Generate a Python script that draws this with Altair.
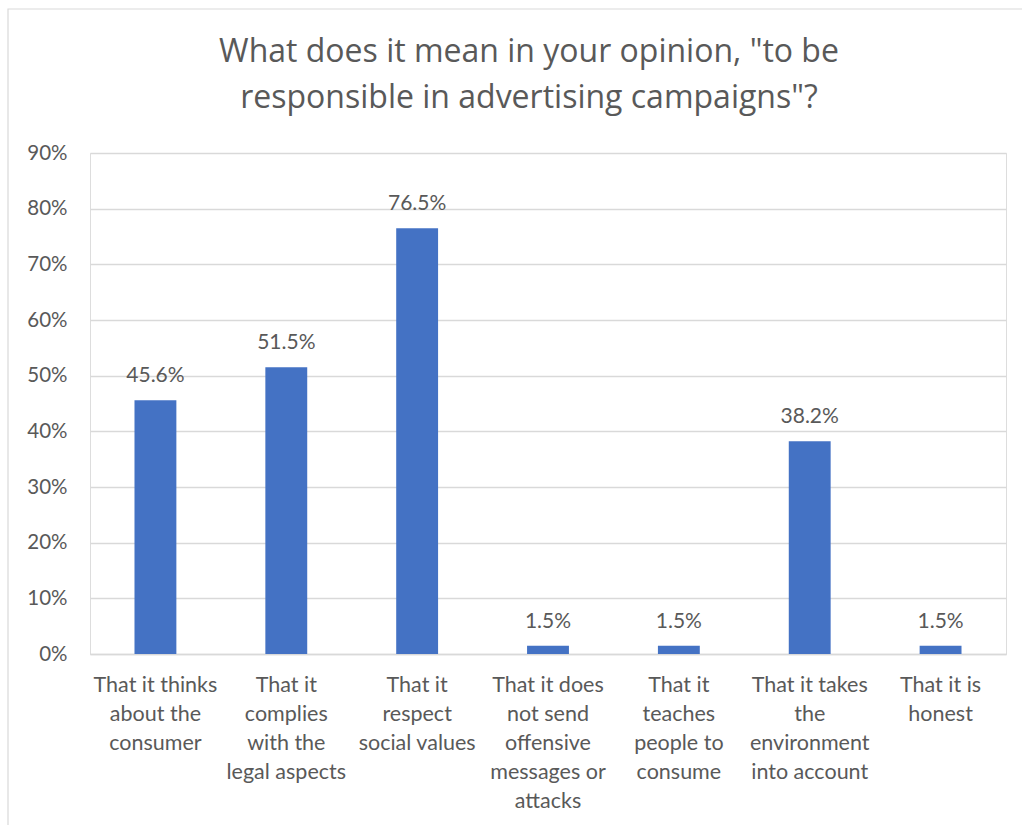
import altair as alt
import pandas as pd

title_lines = ["What does it mean in your opinion, \"to be ",
               "responsible in advertising campaigns\"?"]
label_lines = [
    ["That it thinks", "about the", "consumer"],
    ["That it", "complies", "with the", "legal aspects"],
    ["That it", "respect", "social values"],
    ["That it does", "not send", "offensive", "messages or", "attacks"],
    ["That it", "teaches", "people to", "consume"],
    ["That it takes", "the", "environment", "into account"],
    ["That it is", "honest"],
]
values = [0.456, 0.515, 0.765, 0.015, 0.015, 0.382, 0.015]
value_labels = ["45.6%", "51.5%", "76.5%", "1.5%", "1.5%", "38.2%", "1.5%"]
y_ticks = [0, 0.1, 0.2, 0.3, 0.4, 0.5, 0.6, 0.7, 0.8, 0.9]

categories = ["|".join(l) for l in label_lines]
df = pd.DataFrame({"cat": categories, "val": values, "lab": value_labels})

FONT = "Lato"
TXT = "#595959"

x = alt.X("cat:N", sort=categories, title=None,
          scale=alt.Scale(paddingInner=0.68, paddingOuter=0.34),
          axis=alt.Axis(labelExpr="split(datum.label, '|')", labelAngle=0,
                        labelFontSize=21.5, labelColor=TXT, labelFont=FONT,
                        labelLineHeight=29, labelPadding=20, ticks=False,
                        domainColor="#d9d9d9", domainWidth=1.3, labelLimit=200))

bars = alt.Chart(df).mark_bar(color="#4472C4").encode(
    x=x,
    y=alt.Y("val:Q", title=None,
            scale=alt.Scale(domain=[0, 0.9]),
            axis=alt.Axis(values=y_ticks, format=".0%", labelFontSize=20.5,
                          labelColor=TXT, labelFont=FONT, labelPadding=23,
                          ticks=False, domain=False, gridColor="#d9d9d9",
                          gridWidth=1.3)),
)

text = alt.Chart(df).mark_text(fontSize=21, color=TXT, font=FONT, dy=-18,
                               baseline="alphabetic").encode(
    x=alt.X("cat:N", sort=categories),
    y="val:Q",
    text="lab:N",
)

one = pd.DataFrame({"a": [0]})

frame = alt.Chart(one).mark_rect(
    fill=None, stroke="#d9d9d9", strokeWidth=1.2).encode(
    x=alt.value(-82), x2=alt.value(960), y=alt.value(-144), y2=alt.value(700))

title = alt.Chart(one).mark_text(
    text=title_lines, fontSize=32, font="Open Sans", color=TXT, align="center",
    baseline="alphabetic", lineHeight=46).encode(
    x=alt.value(439), y=alt.value(-91))

chart = alt.layer(frame, bars, text, title).properties(
    width=916, height=501,
    autosize=alt.AutoSizeParams(type="none"),
    padding={"left": 90, "top": 153, "right": 16, "bottom": 171},
).configure_view(stroke=None).configure(background="white")

chart.save("out.html", embed_options={"renderer": "svg", "actions": False})
